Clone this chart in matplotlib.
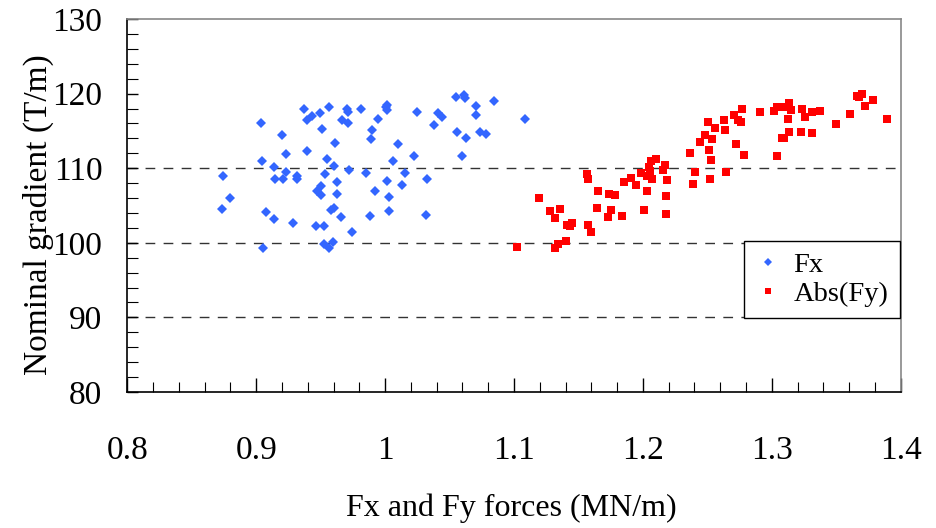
import matplotlib
matplotlib.use("Agg")
import matplotlib.pyplot as plt
from matplotlib.ticker import MultipleLocator, FuncFormatter

plt.rcParams['font.family'] = ['Liberation Serif', 'DejaVu Serif']

# Fx forces (MN/m) vs nominal gradient (T/m)
fx_force = [0.9037, 0.9371, 0.9394, 0.9435, 0.9498, 0.9563, 0.9513, 0.9705, 0.9715, 0.9666,
            0.9715, 0.9816, 0.9945, 0.9896, 0.9889, 1.0010, 1.0013, 1.0016, 0.9198, 0.9229,
            0.9394, 0.9609, 0.9045, 0.9141, 0.9229, 0.9148, 0.9206, 0.9317, 0.9317, 0.9552,
            0.9602, 0.9537, 0.9723, 0.9850, 1.0012, 0.8743, 0.9625, 0.9503, 0.9475, 0.9506,
            0.9623, 0.9920, 1.0031, 0.8798, 0.8736, 0.9075, 0.9141, 0.9283, 0.9464, 0.9524,
            0.9583, 0.9604, 0.9658, 0.9746, 0.9881, 1.0028, 0.9055, 0.9524, 0.9563, 0.9596,
            1.0245, 1.0413, 1.0444, 1.0380, 1.0548, 1.0613, 1.0620, 1.0708, 1.0708, 1.0843,
            1.0556, 1.0628, 1.0737, 1.0781, 1.1088, 1.0103, 1.0222, 1.0064, 1.0595, 1.0157,
            1.0134, 1.0325, 1.0318]
fx_grad = [116.1, 117.9, 116.4, 117.0, 117.4, 118.2, 115.3, 117.9, 117.6, 116.4,
           116.1, 117.9, 116.6, 115.1, 113.9, 118.2, 117.8, 118.5, 114.5, 111.9,
           112.3, 113.4, 110.9, 110.1, 109.5, 108.5, 108.6, 108.9, 108.5, 111.2,
           110.3, 109.2, 109.7, 109.4, 108.3, 109.0, 108.1, 107.6, 107.0, 106.4,
           106.5, 107.0, 106.2, 106.0, 104.5, 104.1, 103.2, 102.7, 102.3, 102.3,
           104.4, 104.6, 103.4, 101.4, 103.6, 104.3, 99.3, 99.8, 99.3, 100.1,
           117.6, 117.4, 116.8, 115.8, 119.6, 119.8, 119.4, 118.3, 117.1, 119.0,
           114.8, 114.0, 114.8, 114.6, 116.6, 113.2, 111.7, 111.0, 111.6, 109.3,
           107.8, 108.5, 103.7]

# Abs(Fy) forces (MN/m) vs nominal gradient (T/m)
fy_force = [1.1021, 1.1197, 1.1282, 1.1355, 1.1316, 1.1409, 1.1435, 1.1451, 1.1404, 1.1340,
            1.1316, 1.1569, 1.1577, 1.1650, 1.1642, 1.1577, 1.1600, 1.1738, 1.1784, 1.1753,
            1.1728, 1.1838, 1.1854, 1.1911, 1.1945, 1.1984, 1.2030, 1.2048, 1.2056, 1.2064,
            1.2100, 1.2071, 1.2030, 1.2007, 1.2159, 1.2172, 1.2190, 1.2182, 1.2182, 1.2366,
            1.2405, 1.2387, 1.2444, 1.2485, 1.2503, 1.2539, 1.2516, 1.2531, 1.2524, 1.2558,
            1.2628, 1.2635, 1.2645, 1.2708, 1.2741, 1.2762, 1.2770, 1.2723, 1.2785, 1.2912,
            1.3018, 1.3043, 1.3080, 1.3134, 1.3137, 1.3150, 1.3127, 1.3137, 1.3075, 1.3095,
            1.3039, 1.3233, 1.3256, 1.3225, 1.3313, 1.3375, 1.3310, 1.3501, 1.3605, 1.3659,
            1.3677, 1.3698, 1.3726, 1.3788, 1.3892]
fy_grad = [99.5, 106.0, 104.2, 104.5, 103.3, 102.4, 102.3, 102.7, 100.2, 99.9,
           99.3, 109.2, 108.5, 107.0, 104.7, 102.4, 101.5, 106.6, 106.4, 104.4,
           103.5, 103.6, 108.1, 108.7, 107.7, 109.3, 109.0, 110.2, 109.6, 110.9,
           111.2, 108.6, 107.0, 104.4, 109.8, 110.4, 108.4, 106.3, 103.8, 112.0,
           109.5, 107.9, 113.5, 114.5, 116.2, 113.9, 112.4, 111.1, 108.6, 115.4,
           116.5, 115.1, 109.5, 117.1, 116.5, 116.2, 117.9, 113.3, 111.8, 117.5,
           117.7, 118.2, 118.2, 118.7, 118.2, 117.8, 116.6, 114.8, 114.0, 114.0,
           111.7, 117.9, 116.9, 114.8, 117.5, 117.7, 114.7, 115.9, 117.2, 119.7,
           119.5, 119.9, 118.4, 119.1, 116.6]

grid_levels = [90, 100, 110]

fig = plt.figure(figsize=(9.37, 5.28), dpi=100)
ax = fig.add_axes([0.1359, 0.2576, 0.8254, 0.7064])

for g in grid_levels:
    ax.axhline(g, color='#333333', lw=1.0, ls=(0, (7, 6)), zorder=1)

ax.plot(fx_force, fx_grad, 'D', color='#3366FF', markersize=5.5,
        markeredgewidth=0, label='Fx', zorder=3)
ax.plot(fy_force, fy_grad, 's', color='#FF0000', markersize=5.5,
        markeredgewidth=0, label='Abs(Fy)', zorder=3)

ax.set_xlim(0.8, 1.4)
ax.set_ylim(80, 130)
ax.xaxis.set_major_locator(MultipleLocator(0.1))
ax.xaxis.set_minor_locator(MultipleLocator(0.02))
ax.yaxis.set_major_locator(MultipleLocator(10))
ax.yaxis.set_minor_locator(MultipleLocator(2))
ax.xaxis.set_major_formatter(FuncFormatter(lambda v, p: '%g' % round(v, 2)))

ax.tick_params(axis='x', which='major', direction='in', length=10, width=1,
               labelsize=24, pad=31)
ax.tick_params(axis='x', which='minor', direction='in', length=7, width=0.8)
ax.tick_params(axis='y', which='major', direction='in', length=8, width=1,
               labelsize=24, pad=18)
ax.tick_params(axis='y', which='minor', direction='in', length=8, width=0.8)

for s in ['left', 'bottom']:
    ax.spines[s].set_color('black')
    ax.spines[s].set_linewidth(1.2)
for s in ['top', 'right']:
    ax.spines[s].set_color('#888888')
    ax.spines[s].set_linewidth(1.2)

ax.set_xlabel('Fx and Fy forces (MN/m)', fontsize=23)
ax.set_ylabel('Nominal gradient (T/m)', fontsize=24)
ax.xaxis.set_label_coords(0.497, -0.273)
ax.yaxis.set_label_coords(-0.095, 0.475)

leg = ax.legend(loc='lower left', bbox_to_anchor=(0.797, 0.198), fontsize=20.5,
                frameon=True, fancybox=False, framealpha=1, edgecolor='black',
                handlelength=0.9, handletextpad=0.45, borderpad=0.4,
                labelspacing=0.1, markerscale=0.8, borderaxespad=0)
leg.get_frame().set_linewidth(1.0)

fig.savefig('out.png', dpi=100)
